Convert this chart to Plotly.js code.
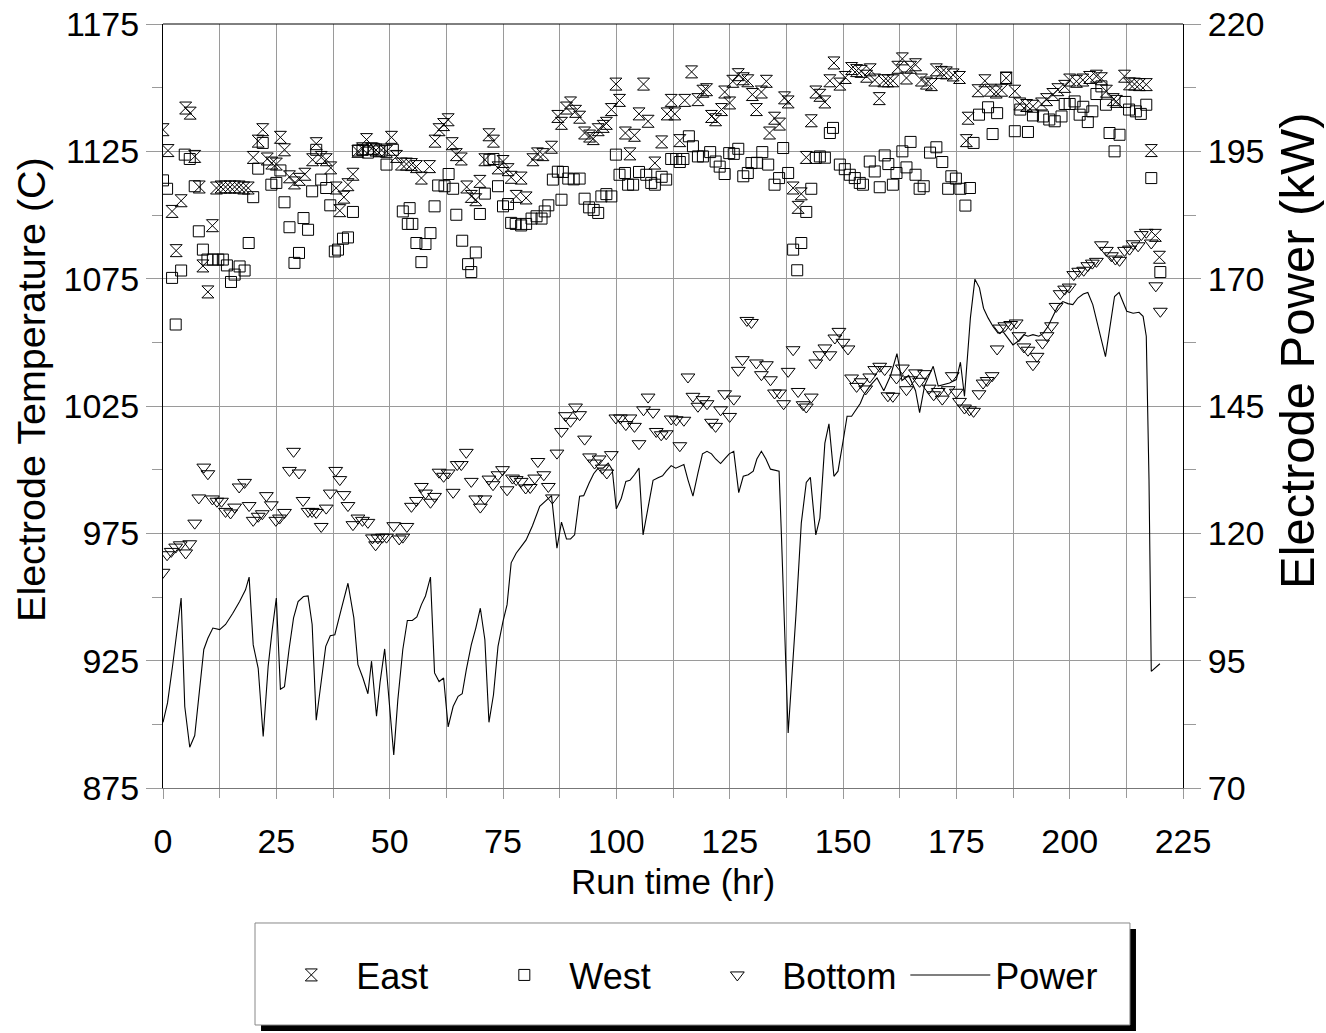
<!DOCTYPE html>
<html>
<head>
<meta charset="utf-8">
<script src="https://cdn.plot.ly/plotly-3.0.1.min.js"></script>
<style>
  html, body { margin: 0; padding: 0; background: #fff; }
  #chart { width: 1326px; height: 1033px; }
</style>
</head>
<body>
<div id="chart"></div>
<script>
// Electrode temperatures (C) over run time (hr)
const eastHr = [0,1.1,2,2.9,4,5,6,7,8,8.8,9.9,10.9,11.8,12.8,13.8,14.8,15.8,16.8,17.8,18.8,19.9,21,22,23,24,25,25.9,26.8,27.9,29,30.1,31.3,33,33.8,34.9,36,37,38.2,39,39.9,40.8,41.9,43,44,44.9,46,47,48.2,49.3,50.4,51.5,52.6,53.7,54.8,55.9,57,58.8,60,60.9,61.9,62.9,63.8,64.7,65.8,67,68,69,69.9,71,71.9,72.9,73.9,75,76.1,76.8,77.9,79,80.1,81.6,82.6,83.8,85.7,87.1,87.9,89,89.9,91,91.9,93,94.1,94.9,96,97.1,97.8,98.9,99.9,100.7,102,103,104,105,106,107,108.5,110,111.2,112.1,112.9,114,115.1,116.6,118,119.1,119.9,121,121.9,123.2,123.9,125,125.7,126.9,128,129,130,130.9,132,133.1,133.8,134.9,136,137.1,137.9,139,140.1,140.8,141.9,143,144,144.9,146,147.1,148,149.3,150.5,151.9,153,154,155.2,156,157,158,159,159.9,161,162.1,163.1,164,164.9,166,167.3,168.4,169.5,170.6,171.7,172.8,174.3,175.7,177.2,177.6,179.8,181.3,182.5,183.8,185,186,187.9,189,190.5,191.9,193.8,194.9,196.3,197.4,198.9,200,201.5,202.9,204.4,205.9,207,208.1,209.6,210.3,212.1,213.2,214.3,215.4,216.9,218,218.9,219.8];
const eastTemp = [1133.5,1125.3,1101.4,1086,1105.6,1142,1140,1123,1111,1080,1069.8,1095.8,1110.6,1111,1111,1111,1111,1111,1110.6,1110.6,1122.6,1129,1133.5,1122,1120.4,1120,1130.5,1125.6,1115,1112.6,1114,1116,1121.7,1128,1122.6,1121.7,1118.5,1110.6,1101.7,1107,1111.9,1116,1125,1126,1129.6,1126,1125.5,1125.5,1125,1130.5,1123,1120,1120,1119.8,1119,1114.5,1119,1129,1133.5,1135.5,1137.4,1128,1123.7,1122,1111,1107.3,1106,1113.2,1121.7,1131.5,1129,1118.5,1121,1117.8,1114.8,1107.3,1114.5,1106.7,1121.7,1124,1123.7,1126.6,1138.7,1136,1142,1144,1140.7,1138.4,1132.2,1131,1130,1133.5,1134.8,1136,1141.4,1151.4,1145,1132.2,1124,1131.3,1139.7,1151.4,1136.8,1120.4,1128.7,1139.7,1145,1139.7,1129.2,1145,1156.2,1145.3,1148.6,1149.2,1138.7,1137.4,1141.4,1148.3,1144,1152.5,1155.1,1153.5,1152.7,1147.3,1141.4,1148.3,1152.5,1132.2,1138,1135.7,1146,1144.4,1110.6,1103,1108.3,1122.6,1137,1148.3,1147,1144.4,1152.7,1159.7,1151.4,1154,1157.5,1156.7,1156.4,1154.5,1157,1153,1145.7,1152.7,1152.7,1152.7,1158,1161.3,1153.8,1158,1159,1153,1151.8,1151.2,1157,1156,1155.8,1155,1154,1129.2,1138,1148.8,1152.7,1149,1148.3,1149,1153.8,1148.6,1143.6,1143,1142.7,1143.6,1145.3,1147.3,1149.2,1150.5,1153,1152.5,1153,1154,1154.5,1153.5,1148.6,1145.3,1144.6,1154.5,1151.5,1151.4,1151.2,1151.2,1125.3,1092,1083.4];

const westHr = [0,0.9,2,2.8,4,4.8,5.9,7,7.9,8.8,9.8,11,12.2,13.2,14.1,15,15.8,16.9,18,18.9,19.9,21,22,23.9,25,25.9,26.8,27.9,29,30,31,32,32.9,33.8,34.9,36,36.9,37.9,38.6,39.7,40.8,41.9,43,44,45.2,46.5,47.7,49.3,50.7,52.9,54,54.4,55,55.9,57,57.9,59,59.9,60.7,62.1,63,64,64.7,66,67.3,68,69,69.9,71,72,72.9,73.9,75,76.1,76.8,77.8,79,80.1,81.3,82.4,83.5,84.2,85,86,87.1,87.9,88.2,89.4,90.6,91.9,93,94,95,96,96.7,97.8,98.9,99.9,100.7,101.9,102.6,103.7,105,106.6,107.7,108.5,110,111,112.1,113.2,114,114.8,116,116.9,118,119.1,120.7,121.9,122.8,123.9,124.9,125.9,126.9,128,129,129.8,131,132.2,133.5,134.9,135.9,136.8,137.9,139,139.9,140.8,141.9,143,144,144.9,146,147.1,147.8,149.3,150.4,151.5,152.6,153.7,154.4,155.9,157,158.1,159.2,160,161,161.8,163.1,164,164.9,166,166.9,167.8,169.2,170.6,171.9,173.2,173.9,174.9,175.9,177,178,178.8,180,182,183,184,186,187.9,189.1,190.8,191.9,194.1,195.5,196.7,198.2,198.9,200,201.1,202.2,203,204,205,205.9,207,208,208.8,209.9,211,212.3,213.1,214.6,215.7,216.9,218,220];
const westTemp = [1113.6,1110.3,1075.3,1057,1078.2,1123.7,1122,1111.3,1093.6,1086.4,1082.5,1082.5,1082.5,1082.5,1080.2,1073.7,1076.6,1079.8,1078.2,1089,1107,1118.2,1128.3,1111.9,1112.6,1117.5,1105,1095.2,1081.2,1085.1,1098.8,1094.2,1109.3,1125.6,1113.9,1110.6,1103.8,1085.7,1086.4,1090.7,1091.2,1101.2,1125.3,1125.6,1124.5,1126,1125,1119.8,1125.6,1101.4,1096.5,1102.7,1096.5,1089,1081.5,1088.6,1092.9,1103.4,1111.6,1111.3,1116.1,1110.3,1100.1,1089.9,1080.7,1077.6,1085.3,1100.4,1108.4,1121.7,1122,1111.3,1103.4,1104.3,1096.9,1096.5,1095.9,1096.5,1098.6,1099.5,1098.6,1101.4,1103.8,1113.9,1117,1106,1116.9,1114.3,1114,1114.3,1106.4,1103,1102,1100.8,1107.3,1108.2,1107.3,1123.7,1115.8,1116.5,1111.9,1111.9,1116.9,1115.8,1112.6,1111.9,1115,1113.9,1122,1122,1120.8,1122,1130.9,1127,1123,1123,1124.7,1121,1119,1116.1,1124.3,1124,1126,1115.2,1116.5,1120.4,1120.5,1124.7,1119.8,1111.9,1114.5,1126.3,1116.5,1086.4,1078.3,1089,1101.2,1110.3,1122.4,1123,1122.5,1132.2,1134.2,1119.8,1118,1115.8,1114.5,1112.6,1111.9,1121,1117.1,1110.9,1123.4,1120,1111.9,1116.5,1125,1118.7,1128.7,1115.8,1110.3,1111.3,1124.5,1126.6,1120.8,1110.3,1115.2,1114.3,1110.3,1103.7,1110.6,1128.3,1139.4,1142.3,1131.8,1140,1153.8,1132.9,1141.4,1132.6,1139.1,1138.7,1137.5,1136.8,1138.7,1143.6,1143.6,1144.6,1139.4,1142.5,1136.5,1140.7,1147.5,1150.5,1143.3,1132.2,1125,1131.5,1144.4,1141.4,1140.7,1139.7,1143.3,1114.5,1077.6];

const bottomHr = [0,0.9,1.8,2.8,3.8,5,5.9,7,7.9,9,9.9,10.9,11.9,12.9,13.8,14.9,15.8,16.8,18,19,19.9,21,21.9,22.8,23.9,24.9,25.7,26.8,27.9,28.8,30,30.9,32,32.9,33.8,34.9,36,36.9,38.1,39,39.9,40.8,41.9,43,44,45.2,46.2,46.9,47.4,48.4,49.3,50.9,52.1,52.9,53.8,54.8,55.9,57,57.9,59,59.9,60.9,61.9,62.9,64,64.9,65.8,66.9,68,69,70,71,71.9,72.8,73.9,74.9,75.9,77.1,77.9,79,80,81,82,82.7,84,85,85.9,86.9,87.9,88.8,89.9,91,91.9,93,94.1,95.2,96.2,96.9,97.9,98.9,99.9,100.9,102.1,103,104,105,106,107,108.1,108.8,109.9,111,112.1,113.2,114,114.9,115.8,116.9,118,119.1,120,121,121.9,123,123.9,125,125.9,126.9,127.8,128.8,129.8,130.9,132,133.1,134,134.9,136,136.9,137.9,139,140.1,141.2,141.9,143,144,144.9,146,147.1,148.2,149.1,150,151.1,151.9,153,154,155,155.9,157,158.1,159.2,159.9,161,161.8,163.1,164,164.9,166,166.9,168,169,170,171,171.9,173.2,174.1,175,175.7,176.8,177.9,178.8,180,180.9,181.8,182.9,184,184.6,185.7,187,188.2,188.8,189.9,190.8,191.9,192.8,194,195,196,197,197.9,198.9,199.9,200.9,202,203.1,204,205,205.9,207,208.1,209.2,210.1,211,212.1,213.2,214,215.1,215.8,216.9,218,219,220];
const bottomTemp = [959.7,966.6,967.9,969.6,970.5,967.3,970.9,979,988.9,1001,998.4,988.5,987.6,987.6,983.6,983,985.3,993.2,995,985.9,980.1,981.7,982.7,989.8,986.2,980.1,981,983.2,999.7,1007.2,998.7,987.9,983.6,983.6,983.2,977.7,984.9,990.8,999.7,996.1,990.2,985.9,978.4,981,980.1,979.3,973.2,970.5,973.2,973.5,973.5,978,972.8,973.5,977.7,985.6,987.9,993.4,990.8,987.2,989.5,999,997.4,998.7,991.1,1002,1002,1006.8,995.4,988.5,985.3,988.5,996.3,994.1,998,1000,992.1,996.7,996.1,995.4,992.8,993,996.7,1003.2,998,993.4,988.9,1006.5,1015,1021.2,1019,1024.6,1021.6,1012,1005,1002.6,1004.2,1000.6,998.7,1005.9,1020.3,1020.3,1017.7,1020.3,1017,1010.2,1023.5,1028.5,1022.5,1015,1013.7,1014.1,1019.9,1019.6,1009.4,1019.4,1036.4,1028.8,1024.9,1027.5,1025.9,1018.6,1017,1023.5,1029.8,1020.9,1027.7,1039,1043.2,1058.6,1057.8,1041.9,1037.3,1041.2,1035.3,1030.1,1030.1,1025.9,1038.6,1047.1,1030.7,1025.5,1024.6,1028.5,1041.9,1045.1,1047.8,1045.1,1051.7,1054.3,1050,1047.4,1036,1032.7,1034.5,1031.7,1036.4,1039.3,1040.6,1039.3,1029,1028.8,1036,1039.9,1031.4,1035.3,1038,1034.7,1037.7,1032,1029.4,1030.7,1027.7,1031.4,1036.9,1030.4,1026.8,1024.2,1023.5,1022.9,1029.8,1034,1035,1036.9,1047.4,1055.6,1056.5,1057,1057.6,1052.6,1048.2,1046.9,1041.2,1044.5,1049.7,1052.6,1056.5,1064.1,1069.1,1070.9,1071.7,1076.6,1077.9,1078.3,1080.1,1081.1,1081.8,1088.3,1086.1,1084,1082.7,1082.2,1086.1,1086.6,1088.7,1087.9,1092.3,1093.2,1089,1072.2,1062.2];

// Electrode power (kW) over run time (hr)
const powerHr = [0,1,2.1,3.1,4,4.8,5.9,7,8.1,9,9.9,11,12.5,13.8,15.4,16.9,18.2,19,19.9,21,22.1,23.2,24.1,25,25.9,26.8,27.8,28.8,29.8,31,32,32.9,33.8,34.9,35.9,36.9,37.9,39.3,40.8,42.1,43,44.1,45.2,46,47.1,47.9,48.9,50.9,51.8,52.9,53.9,55,56,57,57.9,59,59.9,60.9,61.9,62.9,64,65.1,66,66.9,68,69,70,71,71.9,72.9,73.9,75,75.9,76.8,77.9,79,80.1,81.5,83.1,85.7,86.9,87.9,89,89.9,90.8,91.9,92.8,94,95,96,97.1,98.2,99.1,100,101.1,102.1,103,104,105,105.9,107,108.1,109.2,110.2,111,112.1,113.1,114,114.9,115.8,116.9,118,119,120,121,121.9,123,123.9,124.9,125.9,127,128,129.1,130.2,131,132,133,134,134.9,135.9,136.4,137.9,139.6,140.8,141.9,142.8,144,144.9,146,146.9,148,148.9,150,150.9,151.9,153,153.8,154.6,156,157.5,159,160.5,161.9,163,164.5,166,166.9,168,169.9,171,173.5,175,175.9,176.8,178.1,179.1,180.1,181,182,183.1,184.2,185.3,186.4,187.5,188.6,189.9,190.8,191.9,193.2,194.1,195.2,196.3,197.4,198.5,199.6,200.7,201.8,203,204,205.1,206.3,207.9,208.8,209.9,210.9,211.8,212.6,214,215.3,216.2,216.9,217.5,218,219.9];
const powerKW = [82.9,86.7,93.9,101.1,107.3,86,78,80.3,90.3,97.2,99.4,101.4,101.1,102.1,104.3,106.6,108.9,111.4,98.1,93.5,80.1,93.9,101.1,107.3,89.4,89.9,97.2,103.4,106.6,107.6,107.7,102.1,83.3,91.2,97.8,99.9,100.1,105,110.2,103.4,94.2,91.6,88.5,94.9,84.1,90.9,97.3,76.5,87.3,97.2,102.9,102.9,103.6,106,107.7,111.4,92.6,90.9,91.6,82,86,88,88.5,93.2,98.1,101.4,105.3,99.1,82.9,88.3,97.8,102.7,106,114.2,116.1,117.4,118.7,121.5,125.3,127.4,117.1,122.2,118.9,118.9,119.7,127.3,127.4,129.9,131.7,132.8,132.8,133.8,132.5,124.8,126.9,130.2,130.4,131.5,132.8,119.7,125.4,130.4,130.9,131.3,132.2,133.3,132.8,133.2,133.5,130.5,127.3,131.8,135.6,136.1,135.6,134.6,133.7,134.6,135.6,136.1,128,131.2,131.5,132.2,134.6,136.1,134.6,132.6,132.4,132.2,120,80.8,103.7,122,130,131,119.7,123,137.7,141.5,131.2,132.2,138,143,143,144.6,145.5,147.2,149,150.5,148,151,155.3,150,151,148,143.7,149,152.8,148.9,149.5,150.2,153.6,146.9,162.3,169.9,168.2,164.2,162.3,160.6,159.3,159.6,158.3,157,157.7,159,158.7,159,158.7,159.2,160.6,162.6,164.6,165.5,165.1,164.9,166.2,167,167.3,164.9,160.6,154.7,160,166.5,167.3,165.5,163.6,163.2,163.4,162.6,158.7,130.5,92.9,94.4];

const tempTicks = [875, 925, 975, 1025, 1075, 1125, 1175];
const powerTicks = [70, 95, 120, 145, 170, 195, 220];
const hourTicks = [0, 25, 50, 75, 100, 125, 150, 175, 200, 225];

const FONT = 'Liberation Sans, Arial, Helvetica, sans-serif';
const GRID = '#9a9a9a';

const traces = [
  { x: eastHr, y: eastTemp, name: 'East', type: 'scatter', mode: 'markers',
    marker: { symbol: 'hourglass-open', size: 12, color: '#000', line: { width: 1, color: '#000' } } },
  { x: westHr, y: westTemp, name: 'West', type: 'scatter', mode: 'markers',
    marker: { symbol: 'square-open', size: 11, color: '#000', line: { width: 1, color: '#000' } } },
  { x: bottomHr, y: bottomTemp, name: 'Bottom', type: 'scatter', mode: 'markers',
    marker: { symbol: 'triangle-down-open', size: 12, color: '#000', line: { width: 1, color: '#000' } } },
  { x: powerHr, y: powerKW, name: 'Power', type: 'scatter', mode: 'lines', yaxis: 'y2',
    line: { color: '#000', width: 1.1 } }
];

const layout = {
  width: 1326, height: 1033,
  margin: { l: 163, r: 143, t: 24, b: 245 },
  paper_bgcolor: '#fff', plot_bgcolor: 'rgba(0,0,0,0)',
  font: { family: FONT, color: '#000', size: 34 },
  showlegend: true,
  legend: {
    orientation: 'h', x: 0.1013, xanchor: 'left', y: -0.2448, yanchor: 'middle',
    bgcolor: 'rgba(0,0,0,0)', borderwidth: 0,
    font: { family: FONT, size: 36, color: '#000' },
    itemwidth: 80, entrywidth: 118, entrywidthmode: 'pixels', traceorder: 'normal'
  },
  xaxis: {
    range: [0, 225], tickmode: 'array', tickvals: hourTicks, ticktext: hourTicks.map(String),
    ticks: 'outside', ticklen: 10, tickcolor: GRID, tickwidth: 1, ticklabelstandoff: 13,
    showgrid: false, zeroline: false, showline: true, linecolor: '#777', linewidth: 1,
    tickfont: { size: 34 },
    minor: { tickmode: 'linear', tick0: 0, dtick: 12.5, showgrid: true, gridcolor: GRID, gridwidth: 1,
             ticks: 'outside', ticklen: 9, tickcolor: GRID },
    title: { text: 'Run time (hr)', font: { size: 35 }, standoff: 10 }
  },
  xaxis2: {
    overlaying: 'x', anchor: 'y', range: [0, 225], tickmode: 'array', tickvals: hourTicks,
    showticklabels: false, ticks: 'inside', ticklen: 11, tickcolor: GRID, tickwidth: 1,
    showgrid: false, zeroline: false, showline: false
  },
  yaxis: {
    range: [875, 1175], tickmode: 'array', tickvals: tempTicks, ticktext: tempTicks.map(String),
    ticks: 'outside', ticklen: 16, tickcolor: GRID, tickwidth: 1,
    showgrid: true, gridcolor: GRID, gridwidth: 1, zeroline: false,
    showline: true, linecolor: '#000', linewidth: 1,
    tickfont: { size: 34 },
    minor: { tickmode: 'linear', tick0: 875, dtick: 25, ticks: 'outside', ticklen: 10, tickcolor: GRID, showgrid: false }
  },
  yaxis2: {
    overlaying: 'y', side: 'right', anchor: 'x', range: [70, 220],
    tickmode: 'array', tickvals: powerTicks, ticktext: powerTicks.map(String),
    ticks: 'outside', ticklen: 17, tickcolor: GRID, tickwidth: 1,
    showgrid: false, zeroline: false, showline: true, linecolor: '#000', linewidth: 1,
    tickfont: { size: 34 },
    minor: { tickmode: 'linear', tick0: 70, dtick: 12.5, ticks: 'outside', ticklen: 12, tickcolor: GRID, showgrid: false }
  },
  yaxis3: {
    overlaying: 'y', side: 'left', anchor: 'x', range: [875, 1175],
    tickmode: 'array', tickvals: tempTicks, ticks: '', showticklabels: false,
    showgrid: false, zeroline: false, showline: false,
    minor: { tickmode: 'linear', tick0: 875, dtick: 25, ticks: 'inside', ticklen: 10, tickcolor: GRID, showgrid: false }
  },
  yaxis4: {
    overlaying: 'y', side: 'right', anchor: 'x', range: [70, 220],
    tickmode: 'array', tickvals: powerTicks, ticks: '', showticklabels: false,
    showgrid: false, zeroline: false, showline: false,
    minor: { tickmode: 'linear', tick0: 70, dtick: 12.5, ticks: 'inside', ticklen: 10, tickcolor: GRID, showgrid: false }
  },
  annotations: [
    // axis titles for the two temperature / power scales
    { text: 'Electrode Temperature (C)', xref: 'paper', yref: 'paper', x: -0.1294, y: 0.521,
      xanchor: 'center', yanchor: 'middle', textangle: -90, showarrow: false,
      font: { family: FONT, size: 39.5, color: '#000' } },
    { text: 'Electrode Power (kW)', xref: 'paper', yref: 'paper', x: 1.1118, y: 0.572,
      xanchor: 'center', yanchor: 'middle', textangle: -90, showarrow: false,
      font: { family: FONT, size: 49, color: '#000' } }
  ],
  shapes: [
    // top frame edge
    { type: 'line', xref: 'paper', yref: 'paper', x0: 0, x1: 1, y0: 1, y1: 1, line: { color: '#000', width: 1 } },
    // legend drop shadow and box
    { type: 'rect', xref: 'paper', yref: 'paper', x0: 0.0961, x1: 0.9539, y0: -0.318, y1: -0.1846,
      fillcolor: '#000', line: { width: 0 }, layer: 'above' },
    { type: 'rect', xref: 'paper', yref: 'paper', x0: 0.0902, x1: 0.948, y0: -0.3102, y1: -0.1767,
      fillcolor: '#fff', line: { color: '#888', width: 1 }, layer: 'above' }
  ]
};

Plotly.newPlot('chart', traces, layout, { staticPlot: true, displayModeBar: false });
</script>
</body>
</html>
